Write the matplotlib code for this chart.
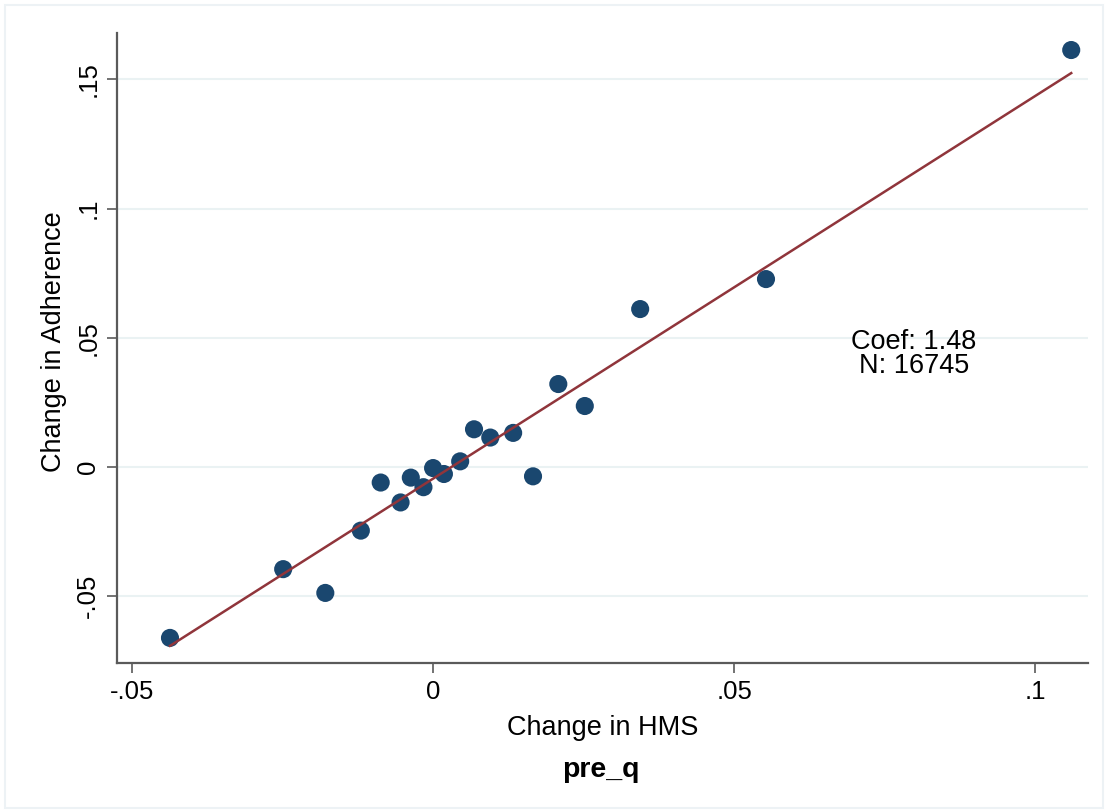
import numpy as np
import matplotlib.pyplot as plt
from matplotlib.patches import Rectangle

plt.rcParams['font.family'] = ['Liberation Sans', 'DejaVu Sans']

# binned means: change in HMS vs change in adherence
hms = [-0.0437, -0.0249, -0.0179, -0.0120, -0.0087, -0.0054, -0.0037, -0.0016,
       0.0000, 0.0018, 0.0045, 0.0068, 0.0095, 0.0133, 0.0166, 0.0208,
       0.0252, 0.0344, 0.0553, 0.1060]
adherence = [-0.0661, -0.0395, -0.0487, -0.0246, -0.0060, -0.0137, -0.0041, -0.0078,
             -0.0004, -0.0027, 0.0022, 0.0146, 0.0114, 0.0132, -0.0036, 0.0321,
             0.0236, 0.0611, 0.0727, 0.1613]

coef = 1.48
intercept = -0.0045
n_obs = 16745

xticks = [-0.05, 0, 0.05, 0.1]
xticklabels = ["-.05", "0", ".05", ".1"]
yticks = [-0.05, 0, 0.05, 0.1, 0.15]
yticklabels = ["-.05", "0", ".05", ".1", ".15"]

navy = "#1a476f"
maroon = "#90353b"
axis_gray = "#5a5a5a"

fig = plt.figure(figsize=(11.06, 8.10), dpi=100)
ax = fig.add_axes([0.1058, 0.1815, 0.878, 0.7778])

# faint outer frame around the graph region
fig.patches.append(Rectangle((5 / 1106, 2 / 810), 1098 / 1106, 803 / 810,
                             transform=fig.transFigure, fill=False,
                             edgecolor="#edf2f5", linewidth=1.5))

ax.set_xlim(-0.0525, 0.1088)
ax.set_ylim(-0.0758, 0.1679)

for yt in yticks:
    ax.axhline(yt, color="#eaf2f3", linewidth=1.5, zorder=0)

ax.scatter(hms, adherence, s=170, color=navy, edgecolors="none", zorder=3)

xfit = np.array([min(hms), max(hms)])
ax.plot(xfit, intercept + coef * xfit, color=maroon, linewidth=1.8, zorder=4)

ax.text(0.0799, 0.0437, f"Coef: {coef:.2f}\nN: {n_obs}", ha="center", va="center",
        fontsize=19.5, linespacing=0.9)

ax.set_xticks(xticks)
ax.set_xticklabels(xticklabels)
ax.set_yticks(yticks)
ax.set_yticklabels(yticklabels, rotation=90, va="center")

for side in ["top", "right"]:
    ax.spines[side].set_visible(False)
for side in ["left", "bottom"]:
    ax.spines[side].set_color(axis_gray)
    ax.spines[side].set_linewidth(1.6)

ax.tick_params(axis="both", direction="out", length=7, width=1.2, color=axis_gray,
               labelsize=18.5, pad=5)

ax.set_xlabel("Change in HMS", fontsize=19.5, labelpad=8)
ax.set_ylabel("Change in Adherence", fontsize=19.5)
ax.yaxis.set_label_coords(-0.051, 0.51)

fig.text(0.5435, 1 - 770 / 810, "pre_q", ha="center", va="center",
         fontsize=20.5, fontweight="bold")

fig.savefig("out.png", dpi=100, facecolor="white")
